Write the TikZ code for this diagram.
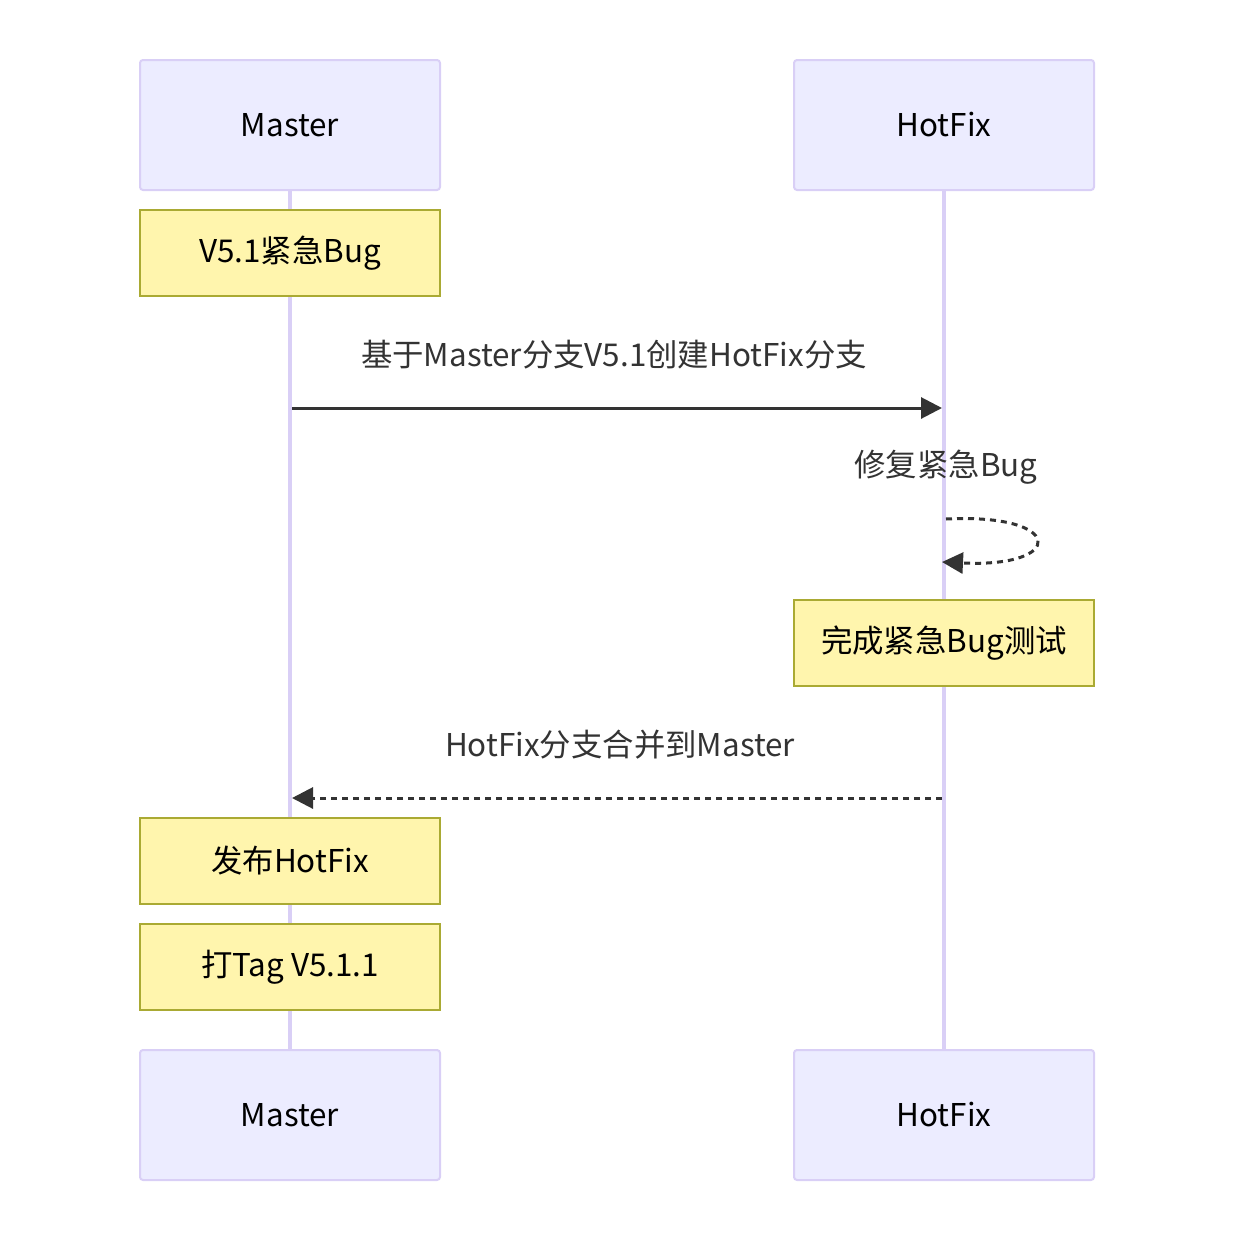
\documentclass[tikz,border=0pt]{standalone}
\usepackage{fontspec}
\setmainfont{Noto Sans CJK SC}
\usepackage{tikz}
\usetikzlibrary{arrows.meta}

\definecolor{actorfill}{HTML}{ECECFF}
\definecolor{actorline}{HTML}{D9CFF6}
\definecolor{notefill}{HTML}{FFF5AD}
\definecolor{noteline}{HTML}{AAAA33}
\definecolor{msgline}{HTML}{333333}

\begin{document}
\begin{tikzpicture}[x=0.5pt, y=-0.5pt,
        actor/.style={rectangle, draw=actorline, fill=actorfill, line width=1pt, rounded corners=1.5pt, minimum width=150pt, minimum height=65pt, font=\fontsize{15.7}{19}\selectfont, text=black},
        note/.style={rectangle, draw=noteline, fill=notefill, line width=0.8pt, minimum width=150pt, minimum height=43pt, font=\fontsize{15.7}{19}\selectfont, text=black},
        life/.style={actorline, line width=2pt},
        msg/.style={msgline, line width=1.5pt},
        msglabel/.style={text=msgline, font=\fontsize{15.7}{19}\selectfont},
        >={Triangle[length=10.5pt, width=10.5pt]}]
        \useasboundingbox (0, 0) rectangle (1236, 1242);

        % actors
        \draw (290, 125) node(mtop)[actor]{Master};
        \draw (944, 125) node(htop)[actor]{HotFix};
        \draw (290, 1115) node(mbot)[actor]{Master};
        \draw (944, 1115) node(hbot)[actor]{HotFix};

        % lifelines
        \draw[life] (mtop.south) -- (mbot.north);
        \draw[life] (htop.south) -- (hbot.north);

        % notes
        \draw (290, 253) node(n1)[note]{V5.1紧急Bug};
        \draw (944, 643) node(n2)[note]{完成紧急Bug测试};
        \draw (290, 861) node(n3)[note]{发布HotFix};
        \draw (290, 967) node(n4)[note]{打Tag V5.1.1};

        % messages
        \coordinate (m1) at (292, 408);
        \coordinate (h1) at (942, 408);
        \draw[msg, ->] (m1) -- (h1);
        \draw (614, 355) node(l1)[msglabel]{基于Master分支V5.1创建HotFix分支};

        \coordinate (h2) at (946, 519);
        \coordinate (h3) at (942, 562);
        \draw[msg, dashed, dash pattern=on 3pt off 2.5pt, ->] (h2) .. controls (1066, 513) and (1066, 568) .. (h3);
        \draw (946, 467) node(l2)[msglabel]{修复紧急Bug};

        \coordinate (h4) at (942, 798);
        \coordinate (m4) at (292, 798);
        \draw[msg, dashed, dash pattern=on 3pt off 2.5pt, ->] (h4) -- (m4);
        \draw (620, 745) node(l3)[msglabel]{HotFix分支合并到Master};
    \end{tikzpicture}
\end{document}
